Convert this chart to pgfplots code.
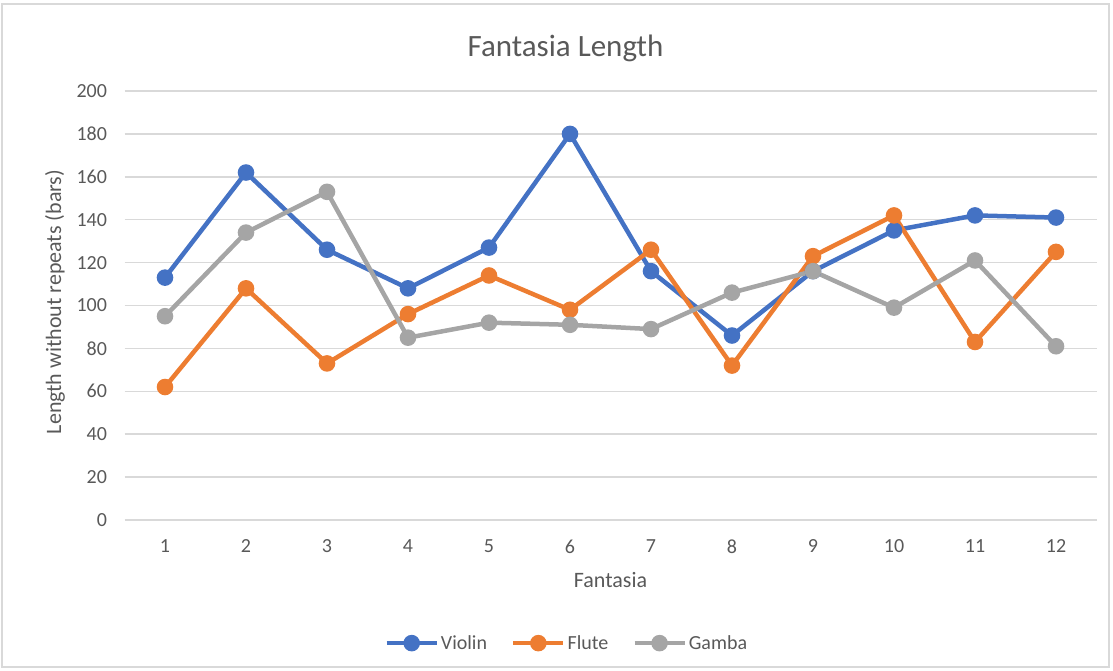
\documentclass[border=0pt]{standalone}
\usepackage{fontspec}
\setmainfont{Carlito}
\usepackage{pgfplots}
\pgfplotsset{compat=1.18}
\definecolor{vblue}{HTML}{4472C4}
\definecolor{forange}{HTML}{ED7D31}
\definecolor{ggray}{HTML}{A5A5A5}
\definecolor{txt}{HTML}{595959}
\definecolor{gridc}{HTML}{D9D9D9}
\begin{document}
\begin{tikzpicture}[x=1pt,y=1pt]
\path[use as bounding box] (0,0) rectangle (1113,670);
\draw[gridc, line width=1.5pt] (2,3) rectangle (1109,666);
\node[text=txt, font=\fontsize{31}{36}\selectfont] at (565.5,622) {Fantasia Length};
\node[text=txt, font=\fontsize{22}{26}\selectfont] at (610.5,90) {Fantasia};
\node[text=txt, font=\fontsize{22}{26}\selectfont, rotate=90] at (55,368) {Length without repeats (bars)};
\begin{axis}[
  at={(124.5pt,150pt)}, anchor=south west, scale only axis,
  width=972pt, height=429pt,
  xmin=0.5, xmax=12.5, ymin=0, ymax=200,
  xtick={1,...,12}, ytick={0,20,...,200},
  axis line style={draw=none},
  major tick length=0pt,
  ymajorgrids, grid style={gridc, line width=1.5pt},
  ticklabel style={font=\fontsize{20}{24}\selectfont, text=txt},
  /pgf/number format/assume math mode=true,
  xticklabel style={yshift=-16pt},
  yticklabel style={xshift=-14pt},
  every axis plot/.append style={line width=4.5pt, mark=*, mark size=6pt, mark options={solid}},
  legend style={at={(0.455,-0.287)}, anchor=center, draw=none, fill=none,
    legend columns=3, font=\fontsize{20}{24}\selectfont, text=txt,
    /tikz/every even column/.append style={column sep=22pt}},
  legend image code/.code={\draw[#1, line width=4.5pt] (0pt,0pt) -- (50pt,0pt);
    \fill[#1] (25pt,0pt) circle (6pt);},
]
\addplot[vblue] coordinates {(1,113) (2,162) (3,126) (4,108) (5,127) (6,180) (7,116) (8,86) (9,116) (10,135) (11,142) (12,141)};
\addlegendentry{Violin}
\addplot[forange] coordinates {(1,62) (2,108) (3,73) (4,96) (5,114) (6,98) (7,126) (8,72) (9,123) (10,142) (11,83) (12,125)};
\addlegendentry{Flute}
\addplot[ggray] coordinates {(1,95) (2,134) (3,153) (4,85) (5,92) (6,91) (7,89) (8,106) (9,116) (10,99) (11,121) (12,81)};
\addlegendentry{Gamba}
\end{axis}
\end{tikzpicture}
\end{document}
